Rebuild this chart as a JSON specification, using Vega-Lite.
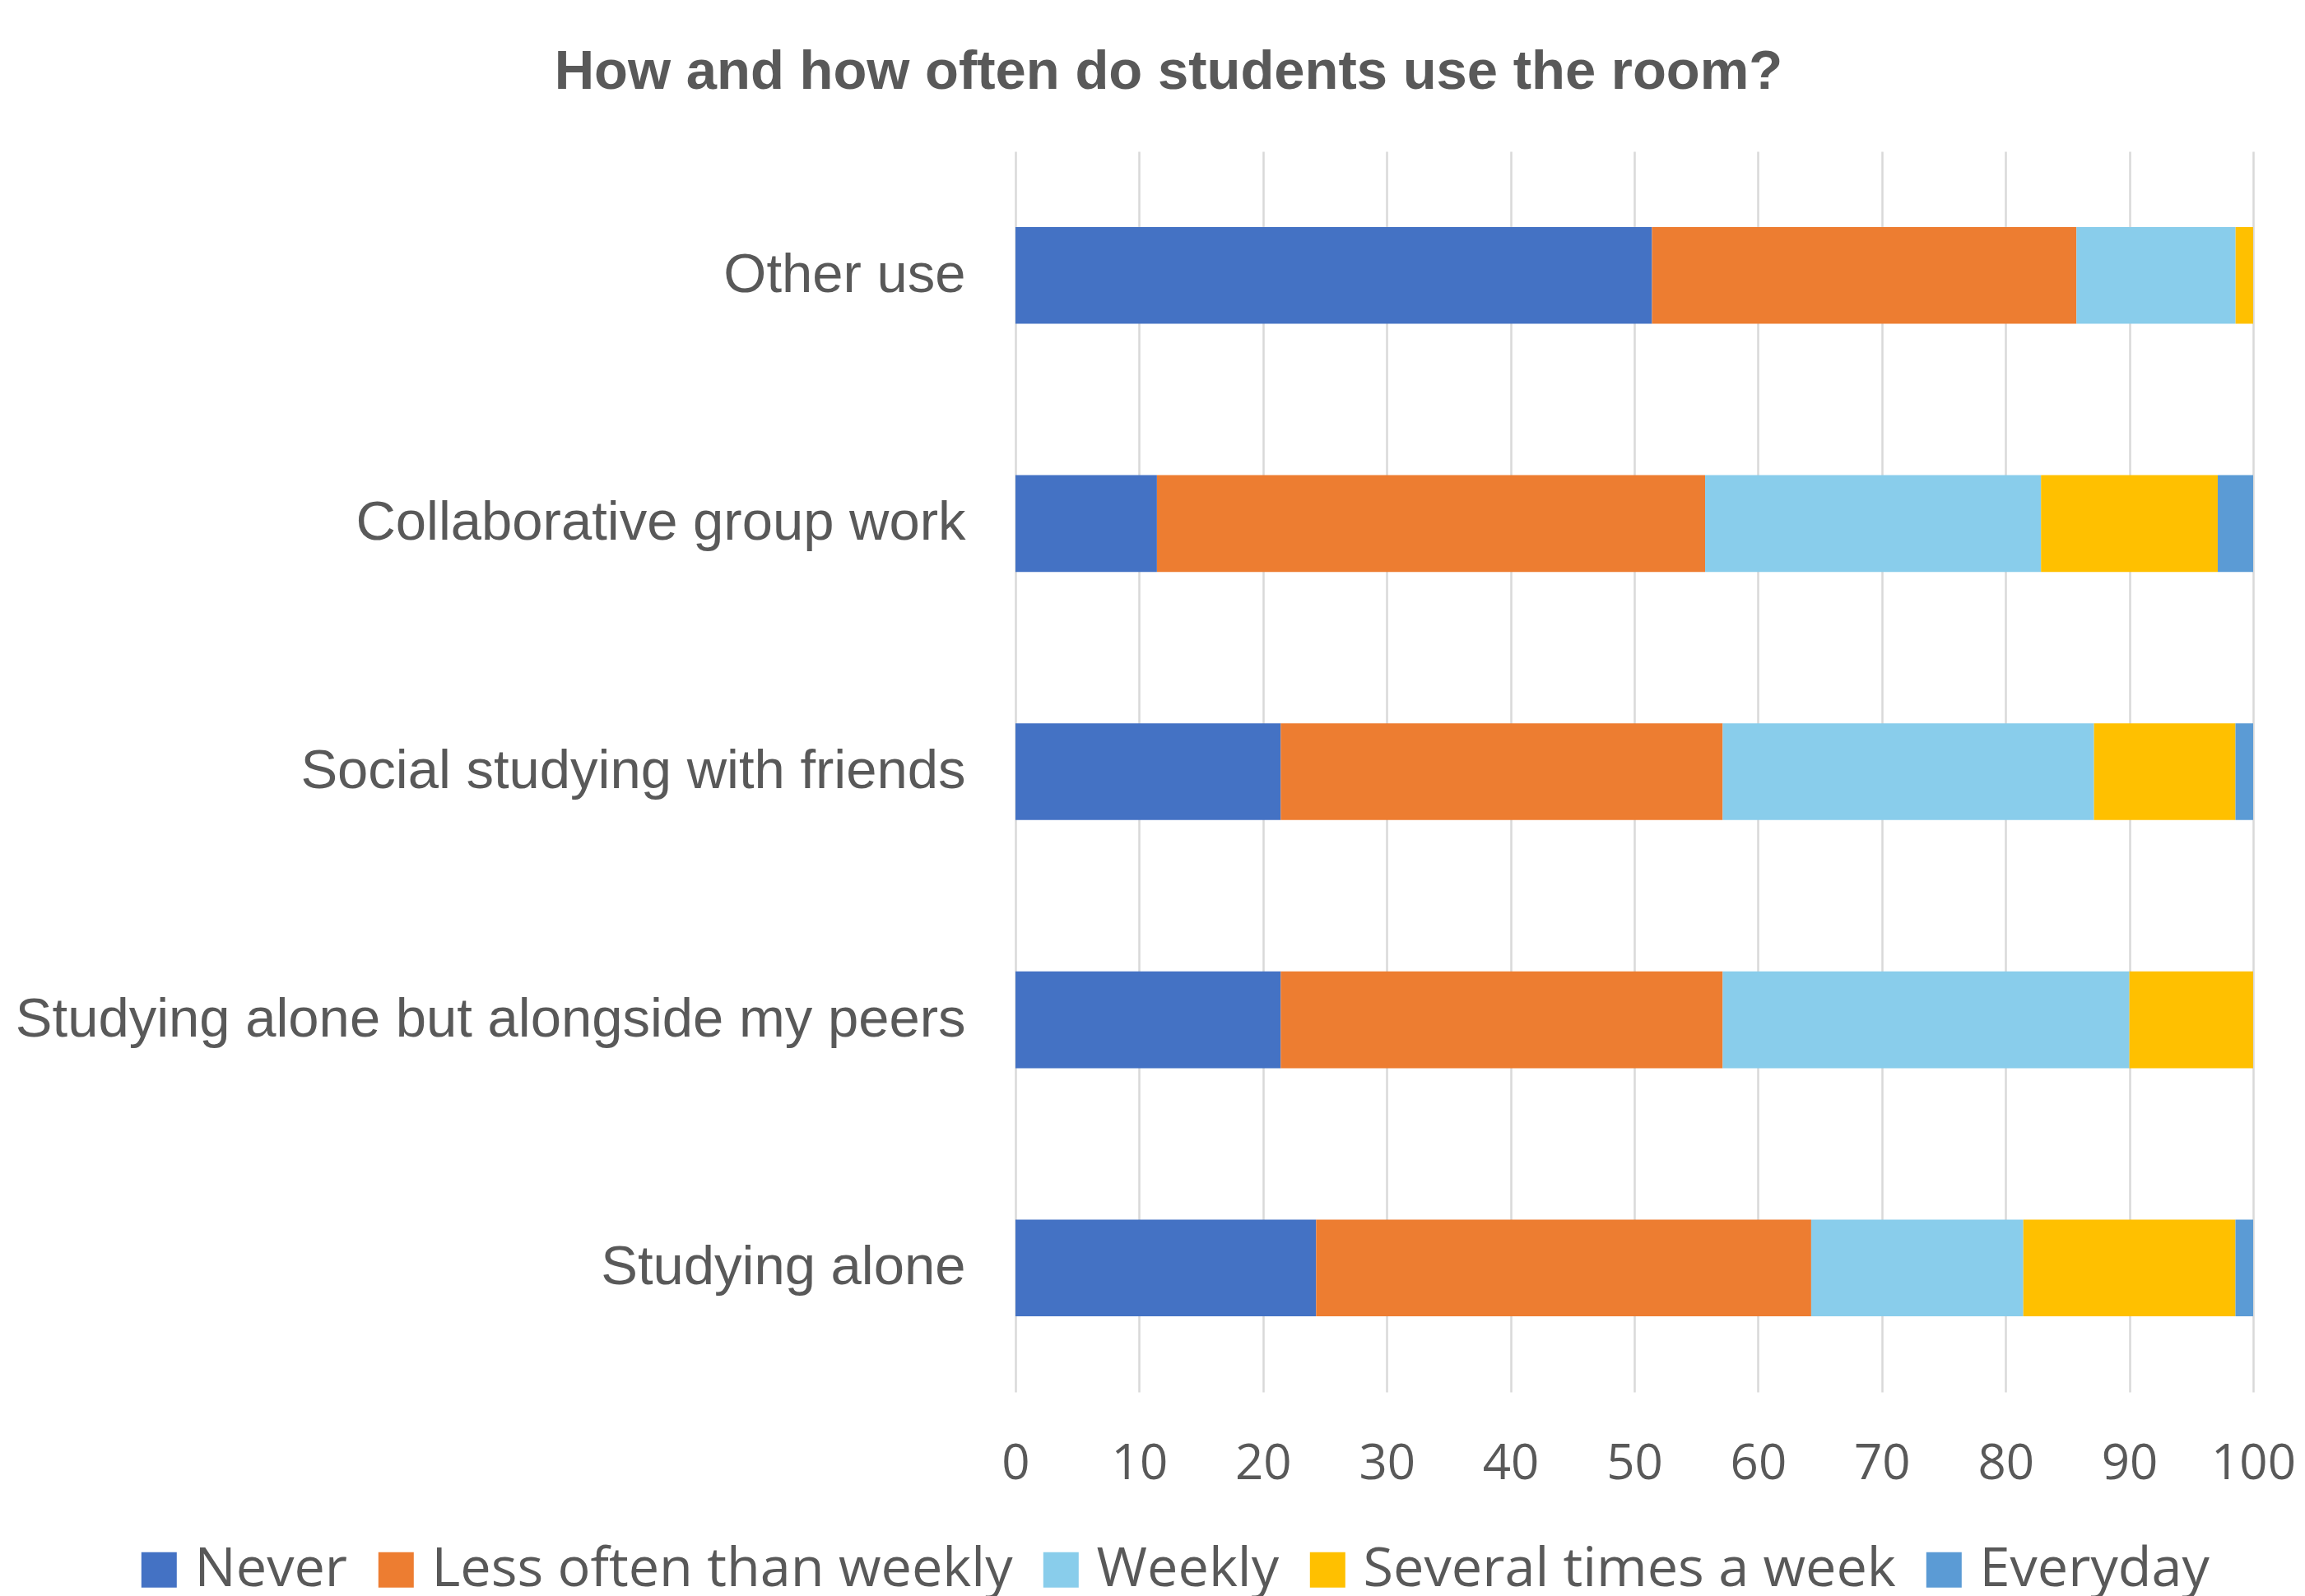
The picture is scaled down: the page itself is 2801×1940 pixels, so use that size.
{
  "$schema": "https://vega.github.io/schema/vega-lite/v6.json",
  "width": 1504,
  "height": 1508,
  "autosize": {"type": "none"},
  "padding": {"left": 1234, "top": 184, "right": 63, "bottom": 248},
  "background": "white",
  "title": {
    "text": "How and how often do students use the room?",
    "fontSize": 67,
    "fontWeight": "bold",
    "font": "Liberation Sans",
    "color": "#595959",
    "anchor": "middle",
    "frame": "group",
    "dx": -566,
    "offset": 62
  },
  "data": {
    "values": [
      {"use": "Other use", "freq": "Never", "k": 1, "pct": 51.43},
      {"use": "Other use", "freq": "Less often than weekly", "k": 2, "pct": 34.29},
      {"use": "Other use", "freq": "Weekly", "k": 3, "pct": 12.86},
      {"use": "Other use", "freq": "Several times a week", "k": 4, "pct": 1.42},
      {"use": "Other use", "freq": "Everyday", "k": 5, "pct": 0},
      {"use": "Collaborative group work", "freq": "Never", "k": 1, "pct": 11.43},
      {"use": "Collaborative group work", "freq": "Less often than weekly", "k": 2, "pct": 44.29},
      {"use": "Collaborative group work", "freq": "Weekly", "k": 3, "pct": 27.14},
      {"use": "Collaborative group work", "freq": "Several times a week", "k": 4, "pct": 14.28},
      {"use": "Collaborative group work", "freq": "Everyday", "k": 5, "pct": 2.86},
      {"use": "Social studying with friends", "freq": "Never", "k": 1, "pct": 21.43},
      {"use": "Social studying with friends", "freq": "Less often than weekly", "k": 2, "pct": 35.71},
      {"use": "Social studying with friends", "freq": "Weekly", "k": 3, "pct": 30.0},
      {"use": "Social studying with friends", "freq": "Several times a week", "k": 4, "pct": 11.43},
      {"use": "Social studying with friends", "freq": "Everyday", "k": 5, "pct": 1.43},
      {"use": "Studying alone but alongside my peers", "freq": "Never", "k": 1, "pct": 21.43},
      {"use": "Studying alone but alongside my peers", "freq": "Less often than weekly", "k": 2, "pct": 35.71},
      {"use": "Studying alone but alongside my peers", "freq": "Weekly", "k": 3, "pct": 32.86},
      {"use": "Studying alone but alongside my peers", "freq": "Several times a week", "k": 4, "pct": 10.0},
      {"use": "Studying alone but alongside my peers", "freq": "Everyday", "k": 5, "pct": 0},
      {"use": "Studying alone", "freq": "Never", "k": 1, "pct": 24.29},
      {"use": "Studying alone", "freq": "Less often than weekly", "k": 2, "pct": 40.0},
      {"use": "Studying alone", "freq": "Weekly", "k": 3, "pct": 17.14},
      {"use": "Studying alone", "freq": "Several times a week", "k": 4, "pct": 17.14},
      {"use": "Studying alone", "freq": "Everyday", "k": 5, "pct": 1.43}
    ]
  },
  "mark": {"type": "bar"},
  "encoding": {
    "y": {
      "field": "use",
      "type": "nominal",
      "sort": ["Other use", "Collaborative group work", "Social studying with friends", "Studying alone but alongside my peers", "Studying alone"],
      "scale": {"paddingInner": 0.61, "paddingOuter": 0.305},
      "axis": {
        "title": null,
        "domain": false,
        "ticks": false,
        "labelPadding": 61,
        "labelFontSize": 67,
        "labelFont": "Liberation Sans",
        "labelColor": "#595959",
        "labelLimit": 2000
      }
    },
    "x": {
      "field": "pct",
      "type": "quantitative",
      "stack": "zero",
      "scale": {"domain": [0, 100], "nice": false, "clamp": true},
      "axis": {
        "title": null,
        "values": [0, 10, 20, 30, 40, 50, 60, 70, 80, 90, 100],
        "domain": false,
        "ticks": false,
        "grid": true,
        "gridColor": "#D9D9D9",
        "gridWidth": 2.5,
        "labelFlush": false,
        "labelOverlap": false,
        "labelPadding": 58,
        "labelFontSize": 60,
        "labelFont": "Open Sans",
        "labelColor": "#595959"
      }
    },
    "color": {
      "field": "freq",
      "type": "nominal",
      "scale": {
        "domain": ["Never", "Less often than weekly", "Weekly", "Several times a week", "Everyday"],
        "range": ["#4472C4", "#ED7D31", "#89CDEB", "#FFC000", "#5B9BD5"]
      },
      "legend": {
        "orient": "none",
        "legendX": -1074,
        "legendY": 1691,
        "direction": "horizontal",
        "columns": 5,
        "title": null,
        "symbolType": "square",
        "symbolSize": 1849,
        "symbolStrokeWidth": 0,
        "symbolOpacity": 1,
        "labelFontSize": 66.6,
        "labelFont": "Open Sans",
        "labelColor": "#595959",
        "labelOffset": 10,
        "columnPadding": 25,
        "labelLimit": 2000,
        "padding": 0
      }
    },
    "order": {"field": "k", "type": "quantitative"}
  },
  "config": {"view": {"stroke": null}}
}
